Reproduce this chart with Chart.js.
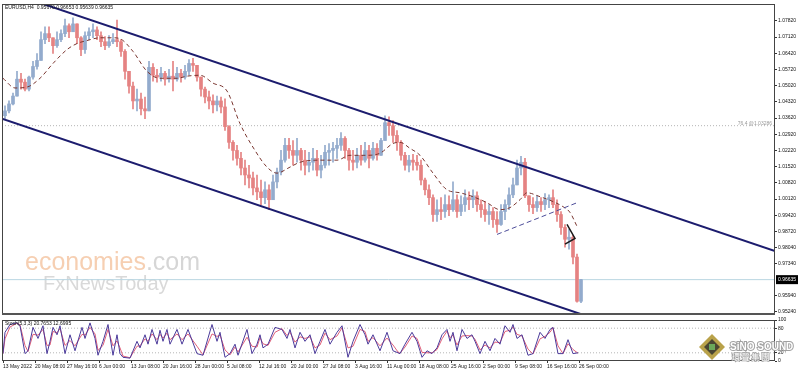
<!DOCTYPE html>
<html>
<head>
<meta charset="utf-8">
<script src="https://cdn.jsdelivr.net/npm/chart.js@4.4.1/dist/chart.umd.min.js"></script>
<style>
  body { margin: 0; background: #fff; }
  #wrap { position: relative; width: 798px; height: 372px; overflow: hidden; background: #fff; }
  canvas { position: absolute; left: 0; }
</style>
</head>
<body>
<div id="wrap">
  <canvas id="priceChart" width="798" height="318" style="top:0"></canvas>
  <canvas id="stochChart" width="798" height="56" style="top:316px"></canvas>
</div>
<script>
// --- data (one drawn candle = 4 H4 bars) ---
const headerText = 'EURUSD,H4  0.95670 0.96653 0.95639 0.96635';
const stochText = 'Stoch(5,3,3) 20.7653 12.6995';

const firstOpen = 1.0372;
const highs = [
  1.0415, 1.0436, 1.0470, 1.0564, 1.0555, 1.0530, 1.0543, 1.0607, 1.0641, 1.0735,
  1.0756, 1.0756, 1.0709, 1.0735, 1.0743, 1.0790, 1.0769, 1.0795, 1.0756, 1.0714,
  1.0735, 1.0752, 1.0769, 1.0756, 1.0735, 1.0714, 1.0718, 1.0727, 1.0786, 1.0701,
  1.0658, 1.0564, 1.0517, 1.0487, 1.0470, 1.0453, 1.0607, 1.0598, 1.0573, 1.0581,
  1.0564, 1.0573, 1.0607, 1.0581, 1.0573, 1.0590, 1.0615, 1.0620, 1.0590, 1.0539,
  1.0496, 1.0479, 1.0462, 1.0457, 1.0453, 1.0445, 1.0329, 1.0265, 1.0244, 1.0214,
  1.0180, 1.0158, 1.0129, 1.0116, 1.0094, 1.0086, 1.0073, 1.0116, 1.0146, 1.0222,
  1.0274, 1.0274, 1.0265, 1.0274, 1.0231, 1.0222, 1.0214, 1.0231, 1.0222, 1.0201,
  1.0244, 1.0252, 1.0257, 1.0274, 1.0299, 1.0282, 1.0231, 1.0222, 1.0231, 1.0244,
  1.0257, 1.0244, 1.0257, 1.0252, 1.0274, 1.0372, 1.0367, 1.0351, 1.0308, 1.0265,
  1.0214, 1.0201, 1.0205, 1.0201, 1.0180, 1.0103, 1.0073, 1.0030, 1.0009, 1.0018,
  1.0030, 1.0026, 1.0086, 1.0030, 1.0026, 1.0052, 1.0043, 1.0052, 1.0043, 1.0009,
  1.0001, 0.9988, 0.9975, 0.9958, 0.9988, 1.0009, 1.0060, 1.0103, 1.0180, 1.0197,
  1.0188, 1.0026, 1.0018, 1.0026, 1.0018, 1.0035, 1.0030, 1.0052, 1.0009, 0.9958,
  0.9902, 0.9881, 0.9855, 0.9774, 0.9665
];
const lows = [
  1.0359, 1.0384, 1.0419, 1.0457, 1.0487, 1.0479, 1.0479, 1.0530, 1.0573, 1.0611,
  1.0684, 1.0692, 1.0641, 1.0667, 1.0692, 1.0714, 1.0709, 1.0735, 1.0684, 1.0632,
  1.0641, 1.0701, 1.0709, 1.0701, 1.0671, 1.0658, 1.0667, 1.0684, 1.0671, 1.0628,
  1.0530, 1.0470, 1.0402, 1.0393, 1.0376, 1.0359, 1.0402, 1.0521, 1.0517, 1.0521,
  1.0504, 1.0517, 1.0479, 1.0521, 1.0517, 1.0530, 1.0547, 1.0564, 1.0521, 1.0457,
  1.0427, 1.0402, 1.0384, 1.0393, 1.0384, 1.0308, 1.0231, 1.0180, 1.0158, 1.0116,
  1.0073, 1.0060, 1.0030, 1.0009, 0.9988, 0.9992, 0.9966, 1.0009, 1.0060, 1.0116,
  1.0171, 1.0188, 1.0158, 1.0171, 1.0137, 1.0116, 1.0129, 1.0137, 1.0112, 1.0103,
  1.0146, 1.0158, 1.0171, 1.0188, 1.0222, 1.0188, 1.0137, 1.0137, 1.0146, 1.0158,
  1.0171, 1.0146, 1.0180, 1.0180, 1.0201, 1.0265, 1.0287, 1.0257, 1.0222, 1.0180,
  1.0137, 1.0129, 1.0137, 1.0137, 1.0073, 1.0030, 0.9988, 0.9915, 0.9915, 0.9923,
  0.9932, 0.9940, 0.9958, 0.9932, 0.9940, 0.9958, 0.9966, 0.9975, 0.9958, 0.9932,
  0.9915, 0.9902, 0.9889, 0.9868, 0.9898, 0.9923, 0.9966, 1.0018, 1.0073, 1.0116,
  1.0018, 0.9958, 0.9949, 0.9958, 0.9958, 0.9966, 0.9975, 0.9975, 0.9915, 0.9859,
  0.9804, 0.9795, 0.9731, 0.9566, 0.9564
];
const closes = [
  1.0393, 1.0423, 1.0457, 1.0530, 1.0517, 1.0487, 1.0539, 1.0585, 1.0611, 1.0701,
  1.0727, 1.0709, 1.0675, 1.0701, 1.0727, 1.0761, 1.0735, 1.0769, 1.0709, 1.0658,
  1.0718, 1.0735, 1.0743, 1.0718, 1.0692, 1.0675, 1.0692, 1.0701, 1.0692, 1.0650,
  1.0564, 1.0500, 1.0436, 1.0444, 1.0402, 1.0393, 1.0581, 1.0547, 1.0539, 1.0555,
  1.0530, 1.0543, 1.0530, 1.0555, 1.0539, 1.0564, 1.0598, 1.0590, 1.0539, 1.0487,
  1.0453, 1.0436, 1.0419, 1.0436, 1.0410, 1.0325, 1.0257, 1.0222, 1.0188, 1.0146,
  1.0116, 1.0103, 1.0060, 1.0043, 1.0018, 1.0052, 1.0009, 1.0086, 1.0129, 1.0180,
  1.0244, 1.0222, 1.0201, 1.0222, 1.0180, 1.0158, 1.0171, 1.0188, 1.0137, 1.0158,
  1.0214, 1.0222, 1.0231, 1.0244, 1.0274, 1.0222, 1.0180, 1.0171, 1.0201, 1.0180,
  1.0222, 1.0188, 1.0231, 1.0201, 1.0265, 1.0342, 1.0329, 1.0287, 1.0257, 1.0201,
  1.0158, 1.0180, 1.0171, 1.0158, 1.0094, 1.0052, 1.0018, 0.9945, 0.9966, 0.9958,
  0.9988, 0.9966, 1.0009, 0.9958, 0.9988, 1.0018, 1.0009, 1.0026, 0.9988, 0.9966,
  0.9945, 0.9958, 0.9923, 0.9902, 0.9958, 0.9988, 1.0030, 1.0073, 1.0146, 1.0171,
  1.0026, 0.9988, 0.9975, 1.0001, 0.9988, 1.0009, 1.0018, 0.9988, 0.9945, 0.9889,
  0.9838, 0.9847, 0.9761, 0.9570, 0.96635
];

// dashed moving average (bar index, price)
const maIdx = [0, 12, 24, 37, 50, 64, 74, 84, 97, 110, 117, 130, 144, 157, 174, 184, 197, 210, 224, 237,
  252, 264, 274, 287, 297, 317, 334, 347, 364, 377, 390, 397, 407, 417, 430, 444, 457, 470, 484, 497,
  507, 517, 524, 537, 550, 560, 567, 574];
const maVals = [1.0534, 1.0492, 1.0496, 1.0534, 1.0598, 1.0658, 1.0684, 1.0697, 1.0709, 1.0709,
  1.0705, 1.0650, 1.0564, 1.0534, 1.0534, 1.0543, 1.0547, 1.0513, 1.0479, 1.0338,
  1.0222, 1.0150, 1.0124, 1.0150, 1.0171, 1.0180, 1.0180, 1.0201, 1.0201, 1.0210,
  1.0252, 1.0257, 1.0231, 1.0201, 1.0124, 1.0052, 1.0039, 1.0022, 0.9996, 0.9966,
  0.9975, 1.0009, 1.0039, 1.0022, 1.0001, 0.9979, 0.9954, 0.9894];

// hand-drawn objects (bar index, price)
const upperChannel = [[30, 1.0870], [772, 0.9787]];
const lowerChannel = [[-1, 1.0359], [590, 0.9497]];
const supportLine = [[494, 0.9859], [574, 0.9996]];
const triangle = [[564, 0.9902], [572, 0.9842], [562, 0.9817]];
const fibLevel = 1.0329;
const fibLabel = '76.4 @1.03286';
const lastPrice = 0.96635;

const priceTicks = [1.07820, 1.07120, 1.06420, 1.05720, 1.05020, 1.04320, 1.03620, 1.02920, 1.02220,
  1.01520, 1.00820, 1.00120, 0.99420, 0.98720, 0.98040, 0.97340, 0.95940, 0.95240];

// stochastic oscillator
const stochIdx = [0, 2, 7, 14, 17, 22, 25, 30, 35, 40, 44, 47, 50, 54, 57, 62, 67, 72, 79, 82,
  87, 92, 95, 100, 105, 110, 114, 117, 120, 127, 134, 137, 142, 145, 149, 154, 157, 160, 164, 167,
  174, 179, 185, 194, 200, 209, 214, 217, 222, 227, 232, 235, 244, 249, 254, 257, 260, 265, 272, 279,
  284, 287, 292, 297, 302, 307, 312, 317, 322, 327, 334, 339, 345, 350, 357, 362, 365, 370, 377, 384,
  390, 395, 397, 402, 409, 414, 419, 424, 429, 434, 439, 444, 447, 450, 454, 459, 464, 469, 472, 477,
  482, 487, 492, 497, 502, 507, 510, 514, 519, 525, 530, 537, 542, 547, 550, 555, 560, 565, 570, 575];
const stochMain = [18, 70, 89, 93, 86, 18, 25, 82, 55, 86, 18, 48, 82, 64, 86, 18, 64, 25, 82, 55,
  93, 55, 14, 48, 89, 14, 64, 18, 9, 7, 48, 32, 64, 41, 77, 41, 75, 48, 77, 41,
  77, 41, 77, 18, 14, 89, 48, 70, 9, 18, 41, 14, 77, 18, 41, 64, 32, 41, 82, 77,
  55, 77, 32, 70, 48, 64, 18, 48, 77, 41, 70, 86, 9, 48, 89, 64, 41, 64, 25, 70,
  25, 20, 18, 41, 70, 48, 9, 25, 18, 32, 64, 77, 48, 70, 25, 77, 55, 64, 48, 18,
  48, 25, 55, 41, 86, 70, 89, 55, 64, 14, 18, 70, 55, 77, 82, 18, 18, 52, 18, 20];
const stochSignal = [18, 54, 83, 92, 88, 38, 23, 65, 63, 77, 38, 39, 72, 69, 79, 38, 50, 37, 65, 63,
  82, 66, 26, 38, 77, 37, 49, 32, 12, 8, 36, 37, 54, 48, 66, 52, 65, 56, 68, 52,
  66, 52, 66, 36, 15, 66, 60, 63, 27, 15, 34, 22, 58, 36, 34, 57, 42, 38, 70, 79,
  62, 70, 46, 59, 55, 59, 32, 39, 68, 52, 61, 81, 32, 36, 77, 72, 48, 57, 37, 56,
  39, 22, 19, 34, 61, 55, 21, 20, 20, 28, 54, 73, 57, 63, 39, 61, 62, 61, 53, 27,
  39, 32, 46, 45, 72, 75, 83, 65, 61, 29, 17, 54, 60, 70, 81, 37, 18, 42, 28, 19];
const stochLevels = [20, 80];
const stochTicks = [0, 20, 80, 100];

const dateIdx = [0, 32, 64, 96, 128, 160, 192, 224, 256, 288, 320, 352, 384, 416, 448, 480, 512, 544, 576];
const dateLabels = ['13 May 2022', '20 May 08:00', '27 May 16:00', '6 Jun 00:00', '13 Jun 08:00',
  '20 Jun 16:00', '28 Jun 00:00', '5 Jul 08:00', '12 Jul 16:00', '20 Jul 00:00', '27 Jul 08:00',
  '3 Aug 16:00', '11 Aug 00:00', '18 Aug 08:00', '25 Aug 16:00', '2 Sep 00:00', '9 Sep 08:00',
  '16 Sep 16:00', '26 Sep 00:00'];

// --- build ---
Chart.defaults.font.family = '"Liberation Sans", Arial, sans-serif';
const FONT_SM = { size: 5 };
const bull = '#93abcd', bear = '#e58282';

const candleIdx = closes.map((_, k) => k * 4 + 2);
const opens = closes.map((c, k) => k === 0 ? firstOpen : closes[k - 1]);
const candleColors = closes.map((c, k) => c >= opens[k] ? bull : bear);
const toPts = arr => arr.map(p => ({ x: p[0], y: p[1] }));
const flat = (v) => [{ x: -1, y: v }, { x: 772, y: v }];

function lineSet(data, color, width, dash, order, extra) {
  return Object.assign({
    type: 'line', data, borderColor: color, borderWidth: width, borderDash: dash || [],
    pointRadius: 0, fill: false, order
  }, extra || {});
}

const framePlugin = {
  id: 'frame',
  afterDraw(chart) {
    const { ctx, chartArea: a } = chart;
    ctx.save();
    ctx.strokeStyle = '#444';
    ctx.lineWidth = 1;
    ctx.strokeRect(a.left + 0.5, a.top + 0.5, a.right - a.left - 1, a.bottom - a.top - 1);
    ctx.restore();
  }
};

const priceDecor = {
  id: 'priceDecor',
  beforeDatasetsDraw(chart) {
    const ctx = chart.ctx;
    ctx.save();
    ctx.textBaseline = 'alphabetic';
    ctx.font = '25px "Liberation Sans", Arial, sans-serif';
    ctx.fillStyle = '#f6cfb2';
    ctx.fillText('economies', 25, 270);
    const w = ctx.measureText('economies').width;
    ctx.fillStyle = '#d6d6d6';
    ctx.fillText('.com', 25 + w, 270);
    ctx.font = '20px "Liberation Sans", Arial, sans-serif';
    ctx.fillStyle = '#d9d9d9';
    ctx.fillText('FxNewsToday', 43, 290);
    ctx.restore();
  },
  afterDraw(chart) {
    const { ctx, chartArea: a, scales } = chart;
    ctx.save();
    // separator under the price panel
    ctx.fillStyle = '#555';
    ctx.fillRect(a.left, a.bottom - 1, a.right - a.left, 2);
    ctx.font = '5px "Liberation Sans", Arial, sans-serif';
    ctx.fillStyle = '#111';
    ctx.textBaseline = 'middle';
    ctx.fillText(headerText, a.left + 3, a.top + 4);
    // fibo level caption
    ctx.fillStyle = '#999';
    ctx.textAlign = 'right';
    ctx.textBaseline = 'bottom';
    ctx.fillText(fibLabel, a.right - 3, scales.y.getPixelForValue(fibLevel));
    // last price box
    const py = scales.y.getPixelForValue(lastPrice);
    ctx.fillStyle = '#000';
    ctx.fillRect(a.right + 1, py - 4.5, 22, 9);
    ctx.fillStyle = '#fff';
    ctx.textAlign = 'left';
    ctx.textBaseline = 'middle';
    ctx.fillText(lastPrice.toFixed(5), a.right + 3, py);
    ctx.restore();
  }
};

new Chart(document.getElementById('priceChart'), {
  data: {
    datasets: [
      lineSet(toPts(upperChannel), '#1c1c6e', 2, null, 1),
      lineSet(toPts(lowerChannel), '#1c1c6e', 2, null, 1),
      lineSet(toPts(triangle), '#1a1a1a', 1.5, null, 2),
      lineSet(toPts(supportLine), '#4d4d99', 1, [5, 3], 2),
      lineSet(maIdx.map((x, i) => ({ x, y: maVals[i] })), '#7a3630', 1, [4, 3], 3,
        { cubicInterpolationMode: 'monotone' }),
      {
        type: 'bar', order: 10, grouped: false, barThickness: 3, minBarLength: 1,
        data: candleIdx.map((x, k) => ({ x, y: [opens[k], closes[k]] })),
        backgroundColor: candleColors
      },
      {
        type: 'bar', order: 11, grouped: false, barThickness: 1,
        data: candleIdx.map((x, k) => ({
          x, y: [Math.min(lows[k], opens[k], closes[k]), Math.max(highs[k], opens[k], closes[k])]
        })),
        backgroundColor: candleColors
      },
      lineSet(flat(fibLevel), '#b5b5b5', 1, [1, 2], 12),
      lineSet(flat(lastPrice), '#b9d6e2', 1, null, 13)
    ]
  },
  options: {
    responsive: false, animation: false, events: [],
    layout: { padding: { left: 2, top: 2, right: 0, bottom: 2 } },
    plugins: { legend: { display: false }, tooltip: { enabled: false } },
    scales: {
      x: { type: 'linear', min: -1, max: 772, offset: false, display: false },
      y: {
        position: 'right', min: 0.9515, max: 1.0855,
        afterBuildTicks: ax => { ax.ticks = priceTicks.map(v => ({ value: v })); },
        afterFit: ax => { ax.width = 23; },
        ticks: { autoSkip: false, font: FONT_SM, color: '#111', padding: 1, callback: v => v.toFixed(5) },
        grid: { drawOnChartArea: false, tickLength: 2, color: '#333' },
        border: { display: false }
      }
    }
  },
  plugins: [framePlugin, priceDecor]
});

const stochDecor = {
  id: 'stochDecor',
  afterDraw(chart) {
    const { ctx, chartArea: a } = chart;
    ctx.save();
    ctx.font = '5px "Liberation Sans", Arial, sans-serif';
    ctx.fillStyle = '#111';
    ctx.textBaseline = 'middle';
    ctx.fillText(stochText, a.left + 3, a.top + 4);
    // Sino Sound logo
    const cx = 712, cy = 31;
    ctx.beginPath();
    ctx.moveTo(cx, cy - 13); ctx.lineTo(cx + 13, cy); ctx.lineTo(cx, cy + 13); ctx.lineTo(cx - 13, cy); ctx.closePath();
    ctx.fillStyle = '#b9a24a'; ctx.fill();
    ctx.beginPath();
    ctx.moveTo(cx, cy - 8); ctx.lineTo(cx + 8, cy); ctx.lineTo(cx, cy + 8); ctx.lineTo(cx - 8, cy); ctx.closePath();
    ctx.fillStyle = '#4a4632'; ctx.fill();
    ctx.fillStyle = '#6aa85a';
    ctx.fillRect(cx - 3, cy - 3, 6, 6);
    ctx.font = 'bold 10px "Liberation Sans", Arial, sans-serif';
    ctx.textBaseline = 'alphabetic';
    ctx.lineWidth = 2;
    ctx.strokeStyle = '#a0a0a0';
    ctx.strokeText('SiNO SOUND', 730, 34);
    ctx.fillStyle = '#fff';
    ctx.fillText('SiNO SOUND', 730, 34);
    ctx.font = '8px "Noto Sans CJK TC", sans-serif';
    ctx.lineWidth = 1.5;
    ctx.strokeText('環 聲 集 團', 732, 44);
    ctx.fillText('環 聲 集 團', 732, 44);
    ctx.restore();
  }
};

new Chart(document.getElementById('stochChart'), {
  data: {
    datasets: [
      lineSet(stochIdx.map((x, i) => ({ x, y: stochMain[i] })), '#4b3a9a', 1, null, 1),
      lineSet(stochIdx.map((x, i) => ({ x, y: stochSignal[i] })), '#e0607a', 1, null, 2),
      lineSet(flat(stochLevels[0]), '#b5b5b5', 1, [1, 2], 5),
      lineSet(flat(stochLevels[1]), '#b5b5b5', 1, [1, 2], 5)
    ]
  },
  options: {
    responsive: false, animation: false, events: [],
    layout: { padding: { left: 2, top: 2, right: 0, bottom: 0 } },
    plugins: { legend: { display: false }, tooltip: { enabled: false } },
    scales: {
      x: {
        type: 'linear', min: -1, max: 772, offset: false,
        afterBuildTicks: ax => { ax.ticks = dateIdx.map(v => ({ value: v })); },
        afterFit: ax => { ax.height = 11; },
        ticks: { autoSkip: false, maxRotation: 0, align: 'start', font: FONT_SM, color: '#111', padding: 1,
          callback: (v, i) => dateLabels[i] },
        grid: { drawOnChartArea: false, tickLength: 2, color: '#333' },
        border: { display: false }
      },
      y: {
        position: 'right', min: 0, max: 100,
        afterBuildTicks: ax => { ax.ticks = stochTicks.map(v => ({ value: v })); },
        afterFit: ax => { ax.width = 23; },
        ticks: { autoSkip: false, font: FONT_SM, color: '#111', padding: 1 },
        grid: { drawOnChartArea: false, tickLength: 2, color: '#333' },
        border: { display: false }
      }
    }
  },
  plugins: [framePlugin, stochDecor]
});
</script>
</body>
</html>
